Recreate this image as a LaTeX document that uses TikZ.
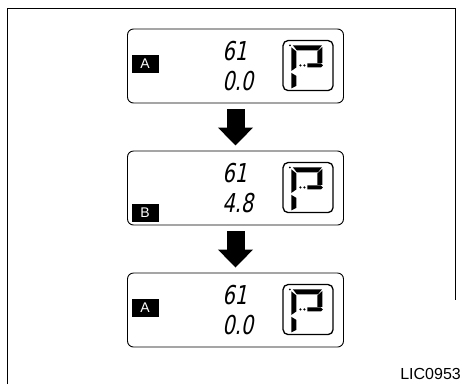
\documentclass[tikz,border=0pt]{standalone}
\usepackage{fontspec}
\setmainfont{Liberation Sans}
\newfontfamily\segfont[FakeStretch=0.75,FakeSlant=0.2]{DejaVu Sans}
\usetikzlibrary{arrows.meta,calc}
\newcommand\pglyph[1]{%
  \begin{scope}[shift={(#1.north west)}]
    \fill (7.5,5.5) circle (1);
    \fill (10.5,5.5) -- (39.5,5.5) -- (35.5,10.5) -- (14.5,10.5) -- cycle;
    \fill (9,7.5) -- (14,11.5) -- (14,27.5) -- (9,31) -- cycle;
    \fill (40,7) -- (40,23) -- (35,23) -- (35,11.5) -- cycle;
    \fill (18,25.5) circle (1.2);
    \fill (22,25.5) circle (1.2);
    \fill (25,23.5) -- (38.5,23.5) -- (40.5,25.5) -- (38.5,27.5) -- (25,27.5) -- cycle;
    \fill (9,33) -- (14,36) -- (14,46) -- (9,48.5) -- cycle;
  \end{scope}}
\newcommand\lcdpanel[6]{% name, center, tag, tag rel y, line1, line2
  \node[panel] (#1) at #2 {};
  \node[tagbox] (#1tag) at ($(#1.north west)+(18,#4)$) {#3};
  \node[digits] (#1top) at ($(#1.north west)+(95,32)$) {#5};
  \node[digits] (#1bot) at ($(#1.north west)+(95,62)$) {#6};
  \node[gearbox] (#1gear) at ($(#1.north west)+(181,37)$) {};
  \pglyph{#1gear}}
\begin{document}
\begin{tikzpicture}[x=1pt,y=-1pt,
  panel/.style={draw, line width=0.9pt, rounded corners=6pt, minimum width=216pt, minimum height=74pt, inner sep=0pt},
  tagbox/.style={fill=black, text=white, minimum width=27pt, minimum height=18pt, inner sep=0pt, font=\fontsize{14}{14}\selectfont},
  digits/.style={anchor=base west, inner sep=0pt, font=\segfont\fontsize{26}{26}\selectfont},
  gearbox/.style={draw, line width=1.3pt, rounded corners=5pt, minimum width=50pt, minimum height=50pt, inner sep=0pt},
  bigarrow/.style={line width=18pt, -{Triangle[width=34pt,length=18pt]}, shorten <=6pt, shorten >=5pt}
]
\useasboundingbox (0,0) rectangle (462,384);
\draw[line width=0.8pt] (7,384) -- (7,8) -- (455,8) -- (455,300);
\lcdpanel{p1}{(235.5,66)}{A}{35.5}{61}{0.0}
\lcdpanel{p2}{(235.5,188)}{B}{62}{61}{4.8}
\lcdpanel{p3}{(235.5,310)}{A}{35.5}{61}{0.0}
\draw[bigarrow] (p1.south) -- (p2.north);
\draw[bigarrow] (p2.south) -- (p3.north);
\node[anchor=base east, inner sep=0pt, font=\fontsize{16}{16}\selectfont] (code) at (461,379) {LIC0953};
\end{tikzpicture}
\end{document}
